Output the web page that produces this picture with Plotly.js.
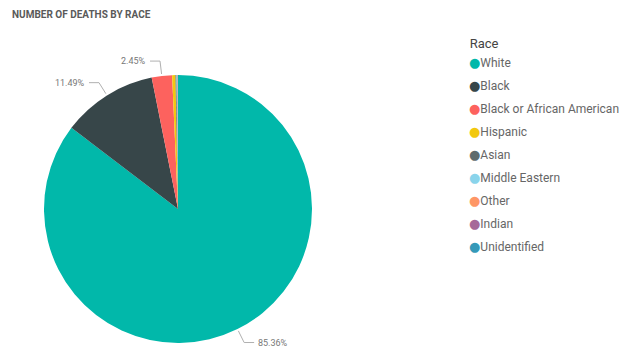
<!DOCTYPE html>
<html>
<head>
<meta charset="utf-8">
<script src="https://cdn.plot.ly/plotly-3.0.1.min.js"></script>
<style>html,body{margin:0;padding:0;background:#fff;}#chart{width:623px;height:351px;}</style>
</head>
<body>
<div id="chart"></div>
<script>
// ---- data ----
const categories = ["White", "Black", "Black or African American", "Hispanic", "Asian", "Middle Eastern", "Other", "Indian", "Unidentified"];
const deathShare = [85.36, 11.49, 2.45, 0.40, 0.12, 0.08, 0.05, 0.03, 0.02];
const sliceColors = ["#01B8AA", "#374649", "#FD625E", "#F2C80F", "#5F6B6D", "#8AD4EB", "#FE9666", "#A66999", "#3599B8"];
const chartTitle = "NUMBER OF DEATHS BY RACE";
const legendTitle = "Race";

// ---- layout geometry ----
const W = 623, H = 351;
const cx = 178, cy = 209, r = 134;
const px = x => x / W, py = y => 1 - y / H;

const pie = {
  type: "pie",
  labels: categories,
  values: deathShare,
  marker: {colors: sliceColors, line: {width: 0}},
  sort: false,
  direction: "clockwise",
  rotation: 0,
  textinfo: "none",
  hoverinfo: "label+percent",
  showlegend: false,
  domain: {x: [px(cx - r), px(cx + r)], y: [py(cy + r), py(cy - r)]}
};

// legend entries: coloured circle glyph + category name
const legendTraces = categories.map((c, i) => ({
  type: "scatter", mode: "markers", x: [null], y: [null],
  name: '<span style="color:' + sliceColors[i] + ';font-family:DejaVu Sans;font-size:13px">\u25CF</span>' + c,
  legendgroup: "g" + i,
  marker: {color: "rgba(0,0,0,0)", size: 1},
  hoverinfo: "skip", showlegend: true
}));

// outside labels with leader lines, computed from the data
const total = deathShare.reduce((a, b) => a + b, 0);
const annotations = [];
const shapes = [];
let cum = 0;
deathShare.forEach((v, i) => {
  const mid = (cum + v / 2) / total;
  cum += v;
  if (v / total < 0.01) return;
  const th = 2 * Math.PI * mid;
  const s = Math.sin(th), c = Math.cos(th);
  const x0 = cx + (r + 2) * s, y0 = cy - (r + 2) * c;
  const x1 = cx + (r + 15) * s, y1 = cy - (r + 15) * c;
  const side = s >= 0 ? 1 : -1;
  const x2 = x1 + side * 10;
  shapes.push({
    type: "path", xref: "paper", yref: "paper",
    path: `M ${px(x0)} ${py(y0)} L ${px(x1)} ${py(y1)} L ${px(x2)} ${py(y1)}`,
    line: {color: "#b0b0b0", width: 1}
  });
  annotations.push({
    xref: "paper", yref: "paper", x: px(x2 + side * 2), y: py(y1),
    xanchor: side > 0 ? "left" : "right", yanchor: "middle",
    text: (v / total * 100).toFixed(2) + "%", showarrow: false,
    font: {family: "Roboto, sans-serif", size: 9, color: "#777"}
  });
});

const layout = {
  width: W, height: H,
  margin: {l: 0, r: 0, t: 0, b: 0, autoexpand: false},
  paper_bgcolor: "#fff", plot_bgcolor: "#fff",
  title: {
    text: "<b>" + chartTitle + "</b>", x: px(12), xanchor: "left", y: py(14), yanchor: "middle",
    font: {family: "Roboto, sans-serif", size: 10, color: "#5a5a5a"}
  },
  xaxis: {visible: false, domain: [0.9, 0.95]},
  yaxis: {visible: false, domain: [0.9, 0.95]},
  showlegend: true,
  legend: {
    x: px(429), y: py(31), xanchor: "left", yanchor: "top",
    title: {text: "\u00a0".repeat(12) + legendTitle, font: {family: "Roboto, sans-serif", size: 13, color: "#444"}},
    font: {family: "Roboto, sans-serif", size: 12, color: "#666"},
    tracegroupgap: 4, itemwidth: 30, bgcolor: "rgba(0,0,0,0)"
  },
  annotations: annotations,
  shapes: shapes
};

Plotly.newPlot("chart", [pie].concat(legendTraces), layout, {displayModeBar: false});
</script>
</body>
</html>
